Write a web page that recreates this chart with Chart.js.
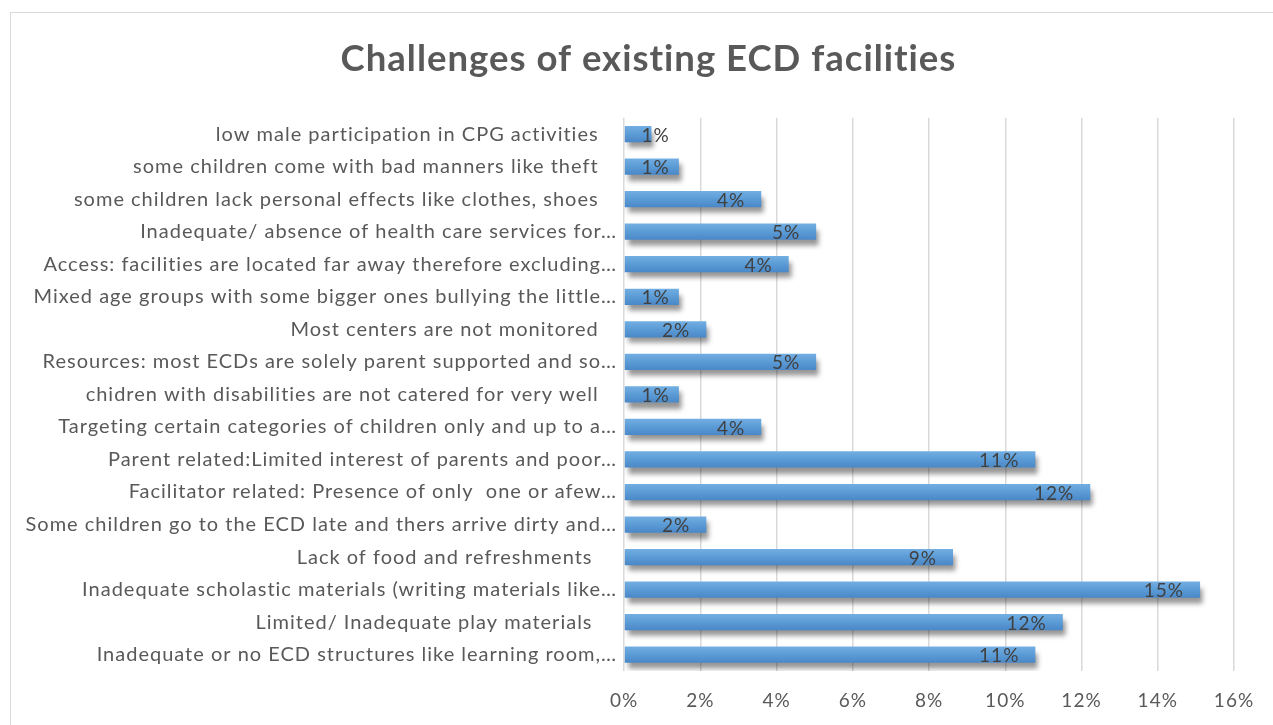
<!DOCTYPE html>
<html><head><meta charset="utf-8">
<script src="https://cdn.jsdelivr.net/npm/chart.js@4.4.1/dist/chart.umd.min.js"></script>
<style>
html,body{margin:0;padding:0;background:#fff;}
#wrap{position:relative;width:1273px;height:725px;overflow:hidden;}
#frame{position:absolute;left:10px;top:12px;width:1300px;height:800px;border:1.5px solid #d9d9d9;box-sizing:border-box;}
#c{position:absolute;left:0;top:0;}
</style></head><body>
<div id="wrap"><div id="frame"></div><canvas id="c" width="1273" height="725"></canvas></div>
<script>
const chartTitle = "Challenges of existing ECD facilities";
const categories = [
  "low male participation in CPG activities   ",
  "some children come with bad manners like theft   ",
  "some children lack personal effects like clothes, shoes   ",
  "Inadequate/ absence of health care services for\u2026",
  "Access: facilities are located far away therefore excluding\u2026",
  "Mixed age groups with some bigger ones bullying the little\u2026",
  "Most centers are not monitored   ",
  "Resources: most ECDs are solely parent supported and so\u2026",
  "chidren with disabilities are not catered for very well   ",
  "Targeting certain categories of children only and up to a\u2026",
  "Parent related:Limited interest of parents and poor\u2026",
  "Facilitator related: Presence of only  one or afew\u2026",
  "Some children go to the ECD late and thers arrive dirty and\u2026",
  "Lack of food and refreshments    ",
  "Inadequate scholastic materials (writing materials like\u2026",
  "Limited/ Inadequate play materials    ",
  "Inadequate or no ECD structures like learning room,\u2026"
];
const percentValues = [0.72, 1.44, 3.60, 5.04, 4.32, 1.44, 2.16, 5.04, 1.44, 3.60, 10.79, 12.23, 2.16, 8.63, 15.11, 11.51, 10.79];
const xTickMin = 0, xTickMax = 16, xTickStep = 2;

const FONT = "Lato, 'Open Sans', sans-serif";
const TEXT = '#595959';

const spacingPlugin = {
  id: 'letterSpacing',
  afterLayout(chart) { if (chart.scales.y) chart.scales.y.left = 0; },
  beforeDraw(chart) { chart.ctx.letterSpacing = '1px'; }
};

const shadowPlugin = {
  id: 'barShadow',
  beforeDatasetDraw(chart) {
    const ctx = chart.ctx;
    ctx.save();
    ctx.shadowColor = 'rgba(0,0,0,0.42)';
    ctx.shadowOffsetX = 3;
    ctx.shadowOffsetY = 6;
    ctx.shadowBlur = 5;
  },
  afterDatasetDraw(chart) {
    chart.ctx.restore();
  }
};

const labelPlugin = {
  id: 'valueLabels',
  afterDatasetsDraw(chart) {
    const ctx = chart.ctx;
    const meta = chart.getDatasetMeta(0);
    ctx.save();
    ctx.font = "19px " + FONT;
    ctx.fillStyle = '#404040';
    ctx.textAlign = 'right';
    ctx.textBaseline = 'middle';
    meta.data.forEach((bar, i) => {
      const v = chart.data.datasets[0].data[i];
      const xr = Math.max(bar.x - 16, bar.base + 45);
      ctx.fillText(Math.round(v) + '%', xr, bar.y + 1.5);
    });
    ctx.restore();
  }
};

new Chart(document.getElementById('c'), {
  type: 'bar',
  data: {
    labels: categories,
    datasets: [{
      data: percentValues,
      backgroundColor: (c) => {
        const chart = c.chart;
        const ys = chart.scales.y;
        if (!ys || c.dataIndex === undefined) return '#5b9bd5';
        const yc = ys.getPixelForValue(c.dataIndex);
        if (!isFinite(yc)) return '#5b9bd5';
        const g = chart.ctx.createLinearGradient(0, yc - 8, 0, yc + 8);
        g.addColorStop(0, '#72aee2');
        g.addColorStop(0.5, '#5b9bd5');
        g.addColorStop(1, '#4a88c8');
        return g;
      },
      borderWidth: 0,
      categoryPercentage: 1.0,
      barPercentage: 0.5
    }]
  },
  options: {
    indexAxis: 'y',
    responsive: false,
    animation: false,
    events: [],
    layout: { padding: { left: 63, right: 39, top: 0, bottom: 0 } },
    plugins: {
      legend: { display: false },
      tooltip: { enabled: false },
      title: {
        display: true,
        text: chartTitle,
        color: TEXT,
        font: { family: FONT, size: 36.5, weight: 'bold' },
        padding: { top: 37, bottom: 37 }
      }
    },
    scales: {
      x: {
        min: xTickMin, max: xTickMax,
        ticks: {
          stepSize: xTickStep,
          color: TEXT,
          font: { family: FONT, size: 19 },
          padding: 18,
          callback: (v) => v + '%'
        },
        grid: { color: '#d9d9d9', lineWidth: 1.5, drawTicks: false },
        border: { display: false },
        afterFit: (s) => { s.height = 54; }
      },
      y: {
        ticks: {
          color: TEXT,
          font: { family: FONT, size: 20 },
          padding: 7,
          autoSkip: false
        },
        grid: { display: false, drawTicks: false },
        border: { display: false },
        afterFit: (s) => { s.width = 624 - 63; }
      }
    }
  },
  plugins: [spacingPlugin, shadowPlugin, labelPlugin]
});
</script>
</body></html>
